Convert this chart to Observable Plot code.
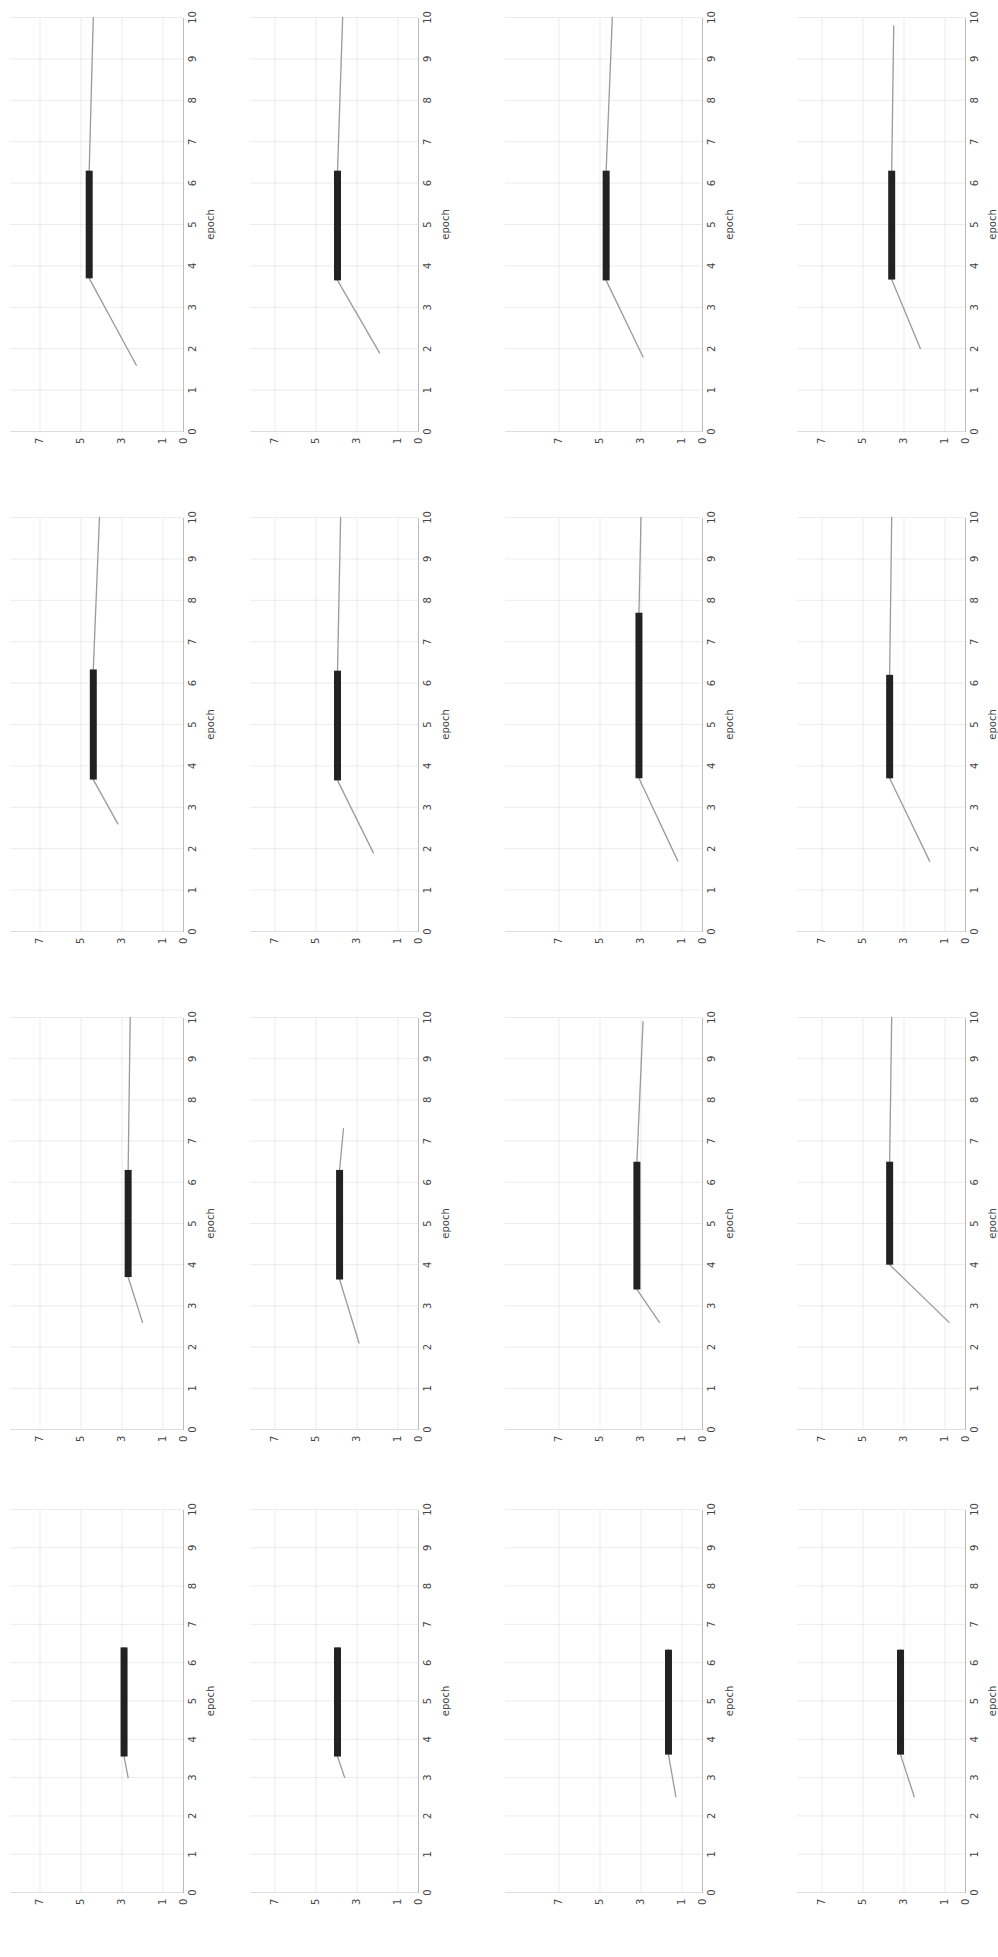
<!DOCTYPE html>
<html><head><meta charset="utf-8">
<script src="https://cdn.jsdelivr.net/npm/d3@7"></script>
<script src="https://cdn.jsdelivr.net/npm/@observablehq/plot@0.6"></script>
<style>
html,body{margin:0;padding:0;background:#fff;}
#root{position:relative;width:998px;height:1957px;overflow:hidden;}
.panel{position:absolute;transform-origin:0 0;transform:rotate(-90deg);}
</style></head><body><div id="root"></div>
<script>
// ---- data (panels listed row by row, left to right) ----
const xTicks = [0,1,2,3,4,5,6,7,8,9,10];
const yTicks = [0,1,3,5,7];
const xLabel = "epoch";
const rampStartX    = [1.6,1.9,1.8,2.0, 2.6,1.9,1.7,1.7, 2.6,2.1,2.6,2.6, 3.0,3.0,2.5,2.5];
const rampStartY    = [2.3,1.9,2.9,2.2, 3.2,2.2,1.2,1.75, 2.0,2.9,2.1,0.8, 2.7,3.6,1.3,2.5];
const plateauStartX = [3.7,3.65,3.65,3.67, 3.67,3.65,3.7,3.7, 3.7,3.64,3.4,4.0, 3.55,3.55,3.6,3.6];
const plateauEndX   = [6.3,6.3,6.3,6.3, 6.33,6.3,7.7,6.2, 6.3,6.3,6.5,6.5, 6.4,6.4,6.34,6.34];
const plateauY      = [4.6,3.95,4.7,3.6, 4.4,3.95,3.1,3.7, 2.7,3.85,3.2,3.7, 2.9,3.95,1.66,3.17];
const tailEndX      = [10,10,10,9.8, 10,10,10,10, 10,7.3,9.9,10, 6.4,6.4,6.34,6.34];
const tailEndY      = [4.4,3.7,4.4,3.5, 4.1,3.8,3.0,3.6, 2.6,3.66,2.9,3.6, 2.9,3.95,1.66,3.17];

// ---- layout (picture coordinates) ----
const colL = [10, 250, 505, 797];   // left edge of each panel's plotting frame
const colB = [183, 418, 702, 965];  // y = 0 baseline
const rowT = [18, 518, 1018, 1510]; // x = 10
const rowB = [432, 932, 1430, 1893];// x = 0
const pxPerY = 20.5;

const root = document.getElementById("root");
for (let i = 0; i < 16; i++) {
  const r = Math.floor(i / 4), c = i % 4;
  const L = colL[c], B = colB[c], T = rowT[r], Bt = rowB[r];
  const mt = 5, mb = 33, ml = 25, mr = 12;
  const W = Bt - T + mr + ml;
  const H = B - L + mt + mb;
  const ytop = (B - L) / pxPerY;
  const pts = [
    {x: rampStartX[i], y: rampStartY[i]},
    {x: plateauStartX[i], y: plateauY[i]},
    {x: plateauEndX[i], y: plateauY[i]},
    {x: tailEndX[i], y: tailEndY[i]}
  ];
  const thick = pts.slice(1, 3);
  const svg = Plot.plot({
    width: W, height: H,
    marginTop: mt, marginBottom: mb, marginLeft: ml, marginRight: mr,
    style: {fontSize: "10px", fontFamily: "DejaVu Sans, sans-serif", color: "#444", background: "transparent", overflow: "visible"},
    x: {domain: [0, 10], ticks: xTicks, grid: true, label: xLabel, labelAnchor: "center", labelArrow: "none", labelOffset: 30, tickSize: 0, tickPadding: 5},
    y: {domain: [0, ytop], ticks: yTicks, grid: true, label: null, tickSize: 0, tickPadding: 6},
    marks: [
      Plot.ruleY([0], {stroke: "#bbb"}),
      Plot.ruleX([0], {stroke: "#ddd"}),
      Plot.line(pts, {x: "x", y: "y", stroke: "#9a9a9a", strokeWidth: 1.3}),
      Plot.line(thick, {x: "x", y: "y", stroke: "#222", strokeWidth: 7, strokeLinecap: "butt"})
    ]
  });
  const div = document.createElement("div");
  div.className = "panel";
  div.style.width = W + "px";
  div.style.height = H + "px";
  div.style.left = (L - mt) + "px";
  div.style.top = (T - mr + W) + "px";
  div.appendChild(svg);
  root.appendChild(div);
}
</script>
</body></html>
